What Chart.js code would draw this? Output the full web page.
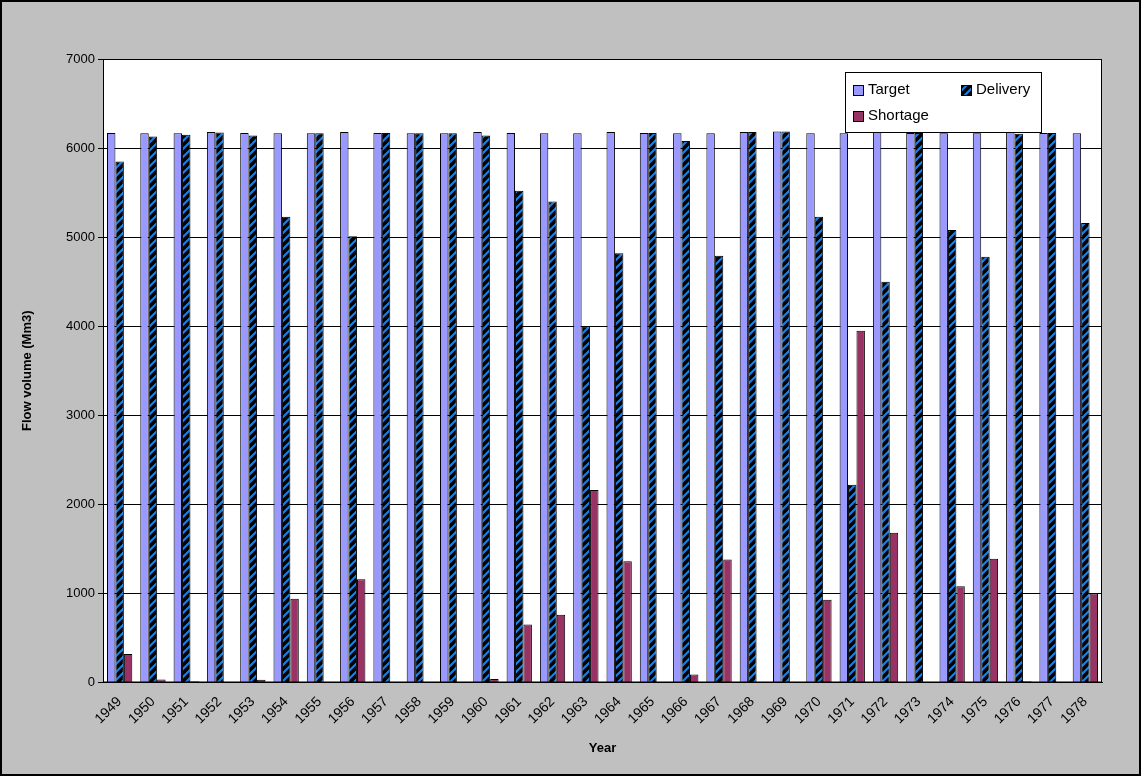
<!DOCTYPE html>
<html><head><meta charset="utf-8">
<script src="https://cdn.jsdelivr.net/npm/chart.js@4"></script>
<style>
html,body{margin:0;padding:0;background:#fff;}
#wrap{position:absolute;left:0;top:0;width:1137px;height:772px;border:2px solid #000;background:#c0c0c0;}
</style></head><body>
<div id="wrap"><canvas id="c" width="1137" height="772"></canvas></div>
<script>
const years = ['1949','1950','1951','1952','1953','1954','1955','1956','1957','1958','1959','1960','1961','1962','1963','1964','1965','1966','1967','1968','1969','1970','1971','1972','1973','1974','1975','1976','1977','1978'];
const target = [6170,6165,6165,6180,6170,6165,6165,6180,6170,6165,6165,6180,6170,6165,6165,6180,6170,6165,6165,6180,6185,6165,6165,6180,6170,6165,6165,6180,6170,6165];
const delivery = [5850,6130,6150,6175,6140,5230,6165,5010,6170,6165,6165,6140,5520,5400,4000,4820,6170,6080,4790,6180,6185,5230,2220,4500,6170,5080,4780,6160,6170,5160];
const shortage = [320,35,15,0,30,940,0,1160,0,0,0,40,650,760,2160,1360,0,90,1380,0,0,930,3950,1680,0,1080,1390,15,0,1000];
const yTicks = [0,1000,2000,3000,4000,5000,6000,7000];

function stripe(){
  const p=document.createElement('canvas');p.width=8;p.height=8;
  const g=p.getContext('2d');g.fillStyle='#000';g.fillRect(0,0,8,8);
  g.strokeStyle='#1c7fe0';g.lineWidth=2.2;
  g.beginPath();g.moveTo(0,8);g.lineTo(8,0);g.moveTo(-4,4);g.lineTo(4,-4);g.moveTo(4,12);g.lineTo(12,4);g.stroke();
  return g.createPattern(p,'repeat');
}
const ctx=document.getElementById('c').getContext('2d');
const pat=stripe();

const bgPlugin={id:'bg',beforeDraw(ch){const a=ch.chartArea,c=ch.ctx;c.save();c.fillStyle='#fff';c.fillRect(a.left,a.top,a.right-a.left,a.bottom-a.top);c.restore();},
afterDraw(ch){const a=ch.chartArea,c=ch.ctx;c.save();c.strokeStyle='#000';c.lineWidth=1;c.strokeRect(a.left+0.5,a.top+0.5,a.right-a.left-1,a.bottom-a.top-1);
 const x=843,y=70,w=196,h=60;c.fillStyle='#fff';c.fillRect(x,y,w,h);c.strokeRect(x+0.5,y+0.5,w,h);
 const items=[['Target','#9999ff',x+8,y+18],['Delivery',pat,x+116,y+18],['Shortage','#993366',x+8,y+44]];
 c.font='15px Arial, "Liberation Sans"';c.textBaseline='middle';
 items.forEach(([t,f,ix,iy])=>{c.fillStyle=f;c.fillRect(ix,iy-5,11,11);c.strokeStyle='#000';c.strokeRect(ix+0.5,iy-4.5,10,10);c.fillStyle='#000';c.fillText(t,ix+15,iy);});
 c.restore();}};

const ds=(l,d,bg)=>({label:l,data:d,backgroundColor:bg,borderColor:'#000',borderWidth:1,barPercentage:1,categoryPercentage:0.76,borderSkipped:'bottom'});
new Chart(ctx,{type:'bar',
data:{labels:years,datasets:[ds('Target',target,'#9999ff'),ds('Delivery',delivery,pat),ds('Shortage',shortage,'#993366')]},
options:{responsive:false,animation:false,
layout:{padding:{left:14,right:37,top:57,bottom:14}},
plugins:{legend:{display:false},tooltip:{enabled:false}},
scales:{
x:{grid:{display:false,drawTicks:true},border:{color:'#000'},ticks:{color:'#000',font:{family:'Arial, "Liberation Sans"',size:14},maxRotation:45,minRotation:45,autoSkip:false},
 title:{display:true,text:'Year',color:'#000',font:{family:'Arial, "Liberation Sans"',size:13,weight:'bold'},padding:{top:10}}},
y:{min:0,max:7000,afterBuildTicks(s){s.ticks=yTicks.map(v=>({value:v}));},afterFit(s){s.width=87;},
 grid:{color:'#000',tickLength:5},border:{color:'#000'},ticks:{color:'#000',font:{family:'Arial, "Liberation Sans"',size:13},callback:v=>String(v)},
 title:{display:true,text:'Flow volume (Mm3)',color:'#000',font:{family:'Arial, "Liberation Sans"',size:13,weight:'bold'}}}}},
plugins:[bgPlugin]});
</script></body></html>
